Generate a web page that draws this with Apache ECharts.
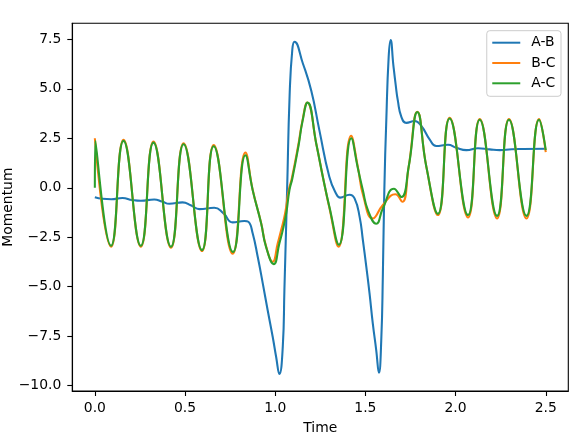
<!DOCTYPE html>
<html>
<head>
<meta charset="utf-8">
<script src="https://cdn.jsdelivr.net/npm/echarts@6/dist/echarts.min.js"></script>
<style>
  html, body { margin: 0; padding: 0; background: #fff; }
  #chart { width: 588px; height: 440px; }
</style>
</head>
<body>
<div id="chart"></div>
<script>
// ---- data ----
const seriesNames = ['A-B', 'B-C', 'A-C'];
const timeTicks = [0, 0.5, 1.0, 1.5, 2.0, 2.5];
const momentumTicks = [-10, -7.5, -5, -2.5, 0, 2.5, 5, 7.5];

const abTime = [0, 0.042, 0.091, 0.153, 0.207, 0.255, 0.329, 0.374, 0.413, 0.486, 0.535, 0.579, 0.662, 0.712, 0.764, 0.829, 0.851, 0.875, 0.903, 0.931, 0.958, 0.986, 1.005, 1.023, 1.042, 1.051, 1.061, 1.066, 1.08, 1.095, 1.107, 1.153, 1.2, 1.245, 1.3, 1.338, 1.36, 1.412, 1.44, 1.468, 1.486, 1.505, 1.523, 1.541, 1.56, 1.575, 1.588, 1.597, 1.605, 1.616, 1.629, 1.64, 1.655, 1.668, 1.68, 1.699, 1.727, 1.773, 1.81, 1.856, 1.893, 1.958, 2.004, 2.06, 2.124, 2.189, 2.245, 2.312, 2.374, 2.5];
const abMomentum = [-0.48, -0.56, -0.58, -0.52, -0.62, -0.66, -0.59, -0.70, -0.81, -0.74, -0.9, -1.08, -1.01, -1.28, -1.75, -1.68, -1.72, -2.3, -3.49, -4.83, -6.18, -7.53, -8.54, -9.41, -8.03, -5.17, -1.8, -0.12, 4.7, 7.0, 7.38, 6.29, 4.9, 2.9, 0.56, -0.3, -0.5, -0.35, -0.54, -1.47, -2.64, -3.99, -5.34, -6.85, -8.2, -9.35, -7.7, -4.33, -0.12, 3.43, 6.6, 7.46, 6.2, 5.2, 4.4, 3.6, 3.28, 3.37, 3.12, 2.45, 2.11, 2.17, 2.02, 1.9, 2.0, 1.94, 1.9, 1.95, 1.96, 1.97];

const bcTime = [0, 0.09, 0.159, 0.255, 0.325, 0.422, 0.492, 0.594, 0.659, 0.764, 0.835, 0.875, 0.922, 0.949, 0.986, 1.014, 1.033, 1.055, 1.075, 1.092, 1.128, 1.15, 1.178, 1.229, 1.266, 1.3, 1.351, 1.421, 1.458, 1.488, 1.541, 1.597, 1.666, 1.704, 1.74, 1.788, 1.838, 1.902, 1.967, 2.069, 2.134, 2.23, 2.296, 2.393, 2.463, 2.5];
const bcMomentum = [2.5, -2.98, 2.42, -2.98, 2.33, -3.03, 2.25, -3.2, 2.16, -3.33, 1.78, -0.1, -1.78, -2.95, -3.74, -2.81, -2.14, -1.29, -0.12, 0.47, 2.16, 3.34, 4.3, 2.16, 0.47, -1.0, -2.98, 2.63, 1.06, -0.4, -1.55, -0.87, -0.33, -0.71, 1.06, 3.84, 1.06, -1.38, 3.54, -1.5, 3.47, -1.55, 3.47, -1.55, 3.47, 1.8];

const acTime = [0, 0.003, 0.09, 0.159, 0.255, 0.325, 0.422, 0.492, 0.594, 0.659, 0.766, 0.835, 0.875, 0.922, 0.949, 0.992, 1.023, 1.042, 1.061, 1.079, 1.095, 1.13, 1.151, 1.179, 1.229, 1.266, 1.3, 1.353, 1.422, 1.458, 1.486, 1.514, 1.56, 1.597, 1.658, 1.7, 1.74, 1.788, 1.838, 1.902, 1.967, 2.069, 2.134, 2.23, 2.296, 2.393, 2.463, 2.5];
const acMomentum = [0, 2.36, -2.93, 2.37, -2.93, 2.28, -2.98, 2.2, -3.15, 2.1, -3.25, 1.64, -0.12, -1.8, -2.98, -3.86, -2.81, -2.14, -1.29, -0.12, 0.47, 2.16, 3.34, 4.3, 2.16, 0.47, -0.95, -2.88, 2.5, 1.0, -0.12, -1.13, -1.82, -1.04, -0.05, -0.47, 1.06, 3.82, 1.06, -1.32, 3.5, -1.38, 3.44, -1.42, 3.44, -1.42, 3.44, 1.9];

const colors = ['#1f77b4', '#ff7f0e', '#2ca02c'];

function pairs(t, v) { return t.map((x, i) => [x, v[i]]); }
function fmt(v) { return (v < 0 ? '\u2212' : '') + Math.abs(v).toFixed(1); }

const FONT = 'DejaVu Sans';
const FS = 13.9;
const axisLineStyle = { color: '#000', width: 1.1 };

const chart = echarts.init(document.getElementById('chart'), null, { renderer: 'canvas' });
chart.setOption({
  animation: false,
  backgroundColor: '#fff',
  color: colors,
  textStyle: { fontFamily: FONT },
  grid: {
    left: 72.3, top: 23.3, right: 19.7, bottom: 49,
    outerBoundsMode: 'none', containLabel: false,
    show: true, borderColor: '#000', borderWidth: 1.1, backgroundColor: 'transparent'
  },
  legend: {
    orient: 'vertical',
    right: 27, top: 30.7,
    data: seriesNames,
    icon: 'rect',
    itemWidth: 28, itemHeight: 2,
    itemGap: 6.3,
    padding: [5, 5.5, 6, 5.5],
    backgroundColor: 'rgba(255,255,255,0.8)',
    borderColor: '#cccccc', borderWidth: 1, borderRadius: 3,
    textStyle: { fontFamily: FONT, fontSize: FS, color: '#000', lineHeight: 14, padding: [0, 0, 0, 6] }
  },
  xAxis: {
    type: 'value', min: -0.125, max: 2.625,
    name: 'Time', nameLocation: 'middle', nameGap: 30, nameMoveOverlap: false,
    nameTextStyle: { fontFamily: FONT, fontSize: FS, color: '#000' },
    axisLine: { show: true, onZero: false, lineStyle: axisLineStyle },
    axisTick: { show: true, customValues: timeTicks, length: 5, lineStyle: axisLineStyle },
    axisLabel: { customValues: timeTicks, formatter: fmt, margin: 10, fontFamily: FONT, fontSize: FS, color: '#000' },
    splitLine: { show: false }
  },
  yAxis: {
    type: 'value', min: -10.27, max: 8.31,
    name: 'Momentum', nameLocation: 'middle', nameGap: 57, nameMoveOverlap: false,
    nameTextStyle: { fontFamily: FONT, fontSize: FS, color: '#000' },
    axisLine: { show: true, onZero: false, lineStyle: axisLineStyle },
    axisTick: { show: true, customValues: momentumTicks, length: 5, lineStyle: axisLineStyle },
    axisLabel: { customValues: momentumTicks, formatter: fmt, margin: 11, fontFamily: FONT, fontSize: FS, color: '#000' },
    splitLine: { show: false }
  },
  series: [
    { name: seriesNames[0], type: 'line', data: pairs(abTime, abMomentum), smooth: true, symbol: 'none', lineStyle: { width: 2.08, color: colors[0] }, z: 2 },
    { name: seriesNames[1], type: 'line', data: pairs(bcTime, bcMomentum), smooth: true, symbol: 'none', lineStyle: { width: 2.08, color: colors[1] }, z: 3 },
    { name: seriesNames[2], type: 'line', data: pairs(acTime, acMomentum), smooth: true, symbol: 'none', lineStyle: { width: 2.08, color: colors[2] }, z: 4 }
  ]
});
</script>
</body>
</html>
